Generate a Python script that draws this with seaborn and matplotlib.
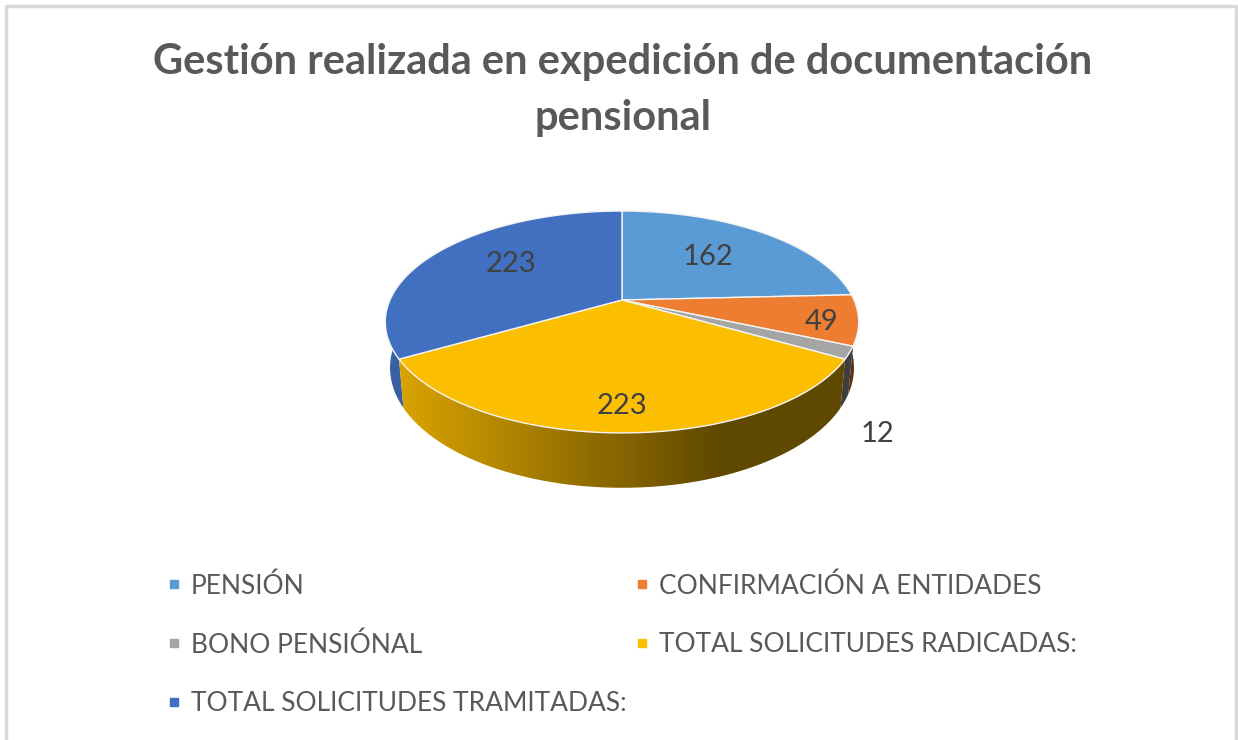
import numpy as np
import matplotlib
matplotlib.use("Agg")
import matplotlib.pyplot as plt
from matplotlib.lines import Line2D
from matplotlib.patches import Polygon
import seaborn as sns

# datos del grafico
categorias = ['PENSIÓN', 'CONFIRMACIÓN A ENTIDADES', 'BONO PENSIÓNAL',
              'TOTAL SOLICITUDES RADICADAS:', 'TOTAL SOLICITUDES TRAMITADAS:']
valores = [162, 49, 12, 223, 223]
titulo = 'Gestión realizada en expedición de documentación\npensional'
colores = sns.color_palette(['#5B9BD5', '#ED7D31', '#A5A5A5', '#FCBE00', '#4270C0'])

# ajuste de etiquetas: radio sobre la tarta y desplazamiento en pixeles
etiqueta_r = [0.6, 0.85, 1.0, 0.82, 0.65]
etiqueta_d = [(-2, 0), (0, 5), (28, 81), (0, 2), (12, -3)]

sns.set_theme(style='white')
plt.rcParams['font.family'] = ['Lato', 'DejaVu Sans']

# geometria de la tarta en perspectiva (pixeles)
cx, cy = 622, 300
rx, ry = 232, 106.6
k = 0.198
prof = 44
enc = 0.98


def proyecta(theta, r=1.0, z=0.0):
    x = r * np.sin(theta)
    y = r * np.cos(theta)
    w = 1 + k * y
    esc = 1 + (enc - 1) * z
    return cx + esc * rx * x / w, cy - ry * y / w + z * prof / w


fig = plt.figure(figsize=(12.38, 7.40), dpi=100)
ax = fig.add_axes([0, 0, 1, 1])
ax.set_xlim(0, 1238)
ax.set_ylim(740, 0)
ax.axis('off')

# marco gris del grafico
ax.plot([6, 6, 1236, 1236], [740, 6, 6, 740], color='#D9D9D9', lw=2.5)

ax.text(623, 90, titulo, ha='center', va='center', fontsize=30, fontweight='bold',
        color='#595959', linespacing=1.55)

fracc = np.array(valores) / sum(valores)
cortes = np.concatenate([[0], np.cumsum(fracc)]) * 2 * np.pi

# paredes laterales con degradado horizontal, de atras hacia delante
columnas = np.arange(0, 1238)
luz = np.interp(columnas, [400, 720, 860], [0.86, 0.38, 0.38])
for i in [0, 4, 1, 2, 3]:
    ts = np.linspace(cortes[i], cortes[i + 1], 120)
    x0, y0 = proyecta(ts)
    x1, y1 = proyecta(ts[::-1], z=1)
    pared = Polygon(list(zip(x0, y0)) + list(zip(x1, y1)), closed=True,
                    transform=ax.transData, facecolor='none', edgecolor='none')
    ax.add_patch(pared)
    degradado = np.outer(luz, colores[i])[np.newaxis, :, :]
    img = ax.imshow(degradado, extent=(0, 1238, 740, 0), aspect='auto',
                    interpolation='bilinear', zorder=1)
    img.set_clip_path(pared)

# cara superior
for i, color in enumerate(colores):
    ts = np.linspace(cortes[i], cortes[i + 1], 120)
    xs, ys = proyecta(ts)
    puntos = [(cx, cy)] + list(zip(xs, ys))
    ax.add_patch(Polygon(puntos, closed=True, facecolor=color, edgecolor='#F4F4F4',
                         lw=1.0, joinstyle='round', zorder=2))

# etiquetas de datos
medios = (cortes[:-1] + cortes[1:]) / 2
for v, t, r, d in zip(valores, medios, etiqueta_r, etiqueta_d):
    ax.annotate(str(v), proyecta(t, r), xytext=(d[0] * 0.72, -d[1] * 0.72),
                textcoords='offset points', ha='center', va='center',
                fontsize=21, color='#404040', zorder=3)

# leyenda: matplotlib llena por columnas
orden = [0, 2, 4, 1, 3]
marcas = [Line2D([], [], ls='none', marker='s', ms=5.8, color=colores[i]) for i in orden]
ax.legend(marcas, [categorias[i] for i in orden], ncol=2, frameon=False,
          loc='upper left', bbox_to_anchor=(166, 573), bbox_transform=ax.transData,
          fontsize=19, labelcolor='#595959', labelspacing=1.27, handlelength=0.6,
          handletextpad=0.35, columnspacing=0.27, borderpad=0, borderaxespad=0)

ax.set_xlim(0, 1238)
ax.set_ylim(740, 0)
fig.savefig('out.png', dpi=100)
